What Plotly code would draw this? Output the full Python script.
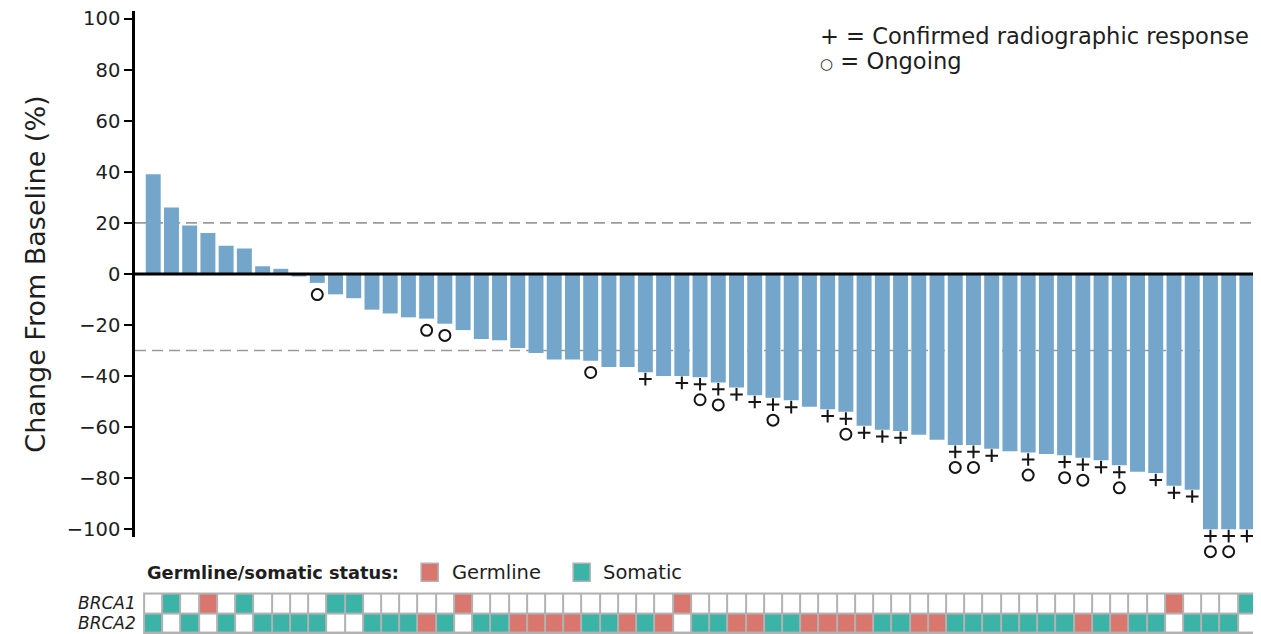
import plotly.graph_objects as go

# ---------------- data ----------------
patients = list(range(1, 62))
change_pct = [39, 26, 19, 16, 11, 10, 3, 2, -1, -3.5,
              -8, -9.5, -14, -15.5, -17, -17.5, -19.5, -22, -25.5, -26,
              -29, -31, -33.5, -33.5, -34, -36.5, -36.5, -38.5, -40, -40,
              -40.5, -42.5, -44.5, -47.5, -48.5, -49.5, -52, -53, -54, -59.5,
              -61, -61.5, -63, -65, -67, -67, -68.5, -69.5, -70, -70.5,
              -71, -72, -73, -75, -77.5, -78, -83, -84.5, -100, -100, -100]
confirmed_response = [28, 30, 31, 32, 33, 34, 35, 36, 38, 39, 40, 41, 42, 45, 46,
                      47, 49, 51, 52, 53, 54, 56, 57, 58, 59, 60, 61]
ongoing = [10, 16, 17, 25, 31, 32, 35, 39, 45, 46, 49, 51, 52, 54, 59, 60]
brca1_status = ["", "S", "", "G", "", "S", "", "", "", "",
                "S", "S", "", "", "", "", "", "G", "", "",
                "", "", "", "", "", "", "", "", "", "G",
                "", "", "", "", "", "", "", "", "", "",
                "", "", "", "", "", "", "", "", "", "",
                "", "", "", "", "", "", "G", "", "", "", "S"]
brca2_status = ["S", "", "S", "", "S", "", "S", "S", "S", "S",
                "", "", "S", "S", "S", "G", "S", "", "S", "S",
                "G", "G", "G", "G", "S", "S", "G", "S", "G", "",
                "S", "S", "G", "G", "S", "S", "G", "G", "G", "G",
                "S", "S", "G", "G", "S", "S", "S", "S", "S", "S",
                "S", "G", "S", "G", "S", "S", "", "S", "S", "S", ""]
gene_rows = ["BRCA1", "BRCA2"]
y_ticks = list(range(-100, 101, 20))
ref_lines = [20, -30]

# ---------------- style ----------------
FONT = "DejaVu Sans"
TXT = "#1e1e1e"
BAR = "#74a5cb"
GERM = "#d9766d"
SOMA = "#3cb3a7"
CELL_BORDER = "#b2b2b2"
MARK = "#151515"

# page has an 8px body margin: the figure sits at (8, 8)
OFF = 8
WIN_W, WIN_H = 1261, 634
W, H = WIN_W - OFF, WIN_H - OFF
# plot area in window pixels
PL, PR, PT, PB = 135.3, 1256.4, 11.35, 632.7
ML, MR, MT, MB = PL - OFF, WIN_W - PR, PT - OFF, WIN_H - PB
PW, PH = PR - PL, PB - PT
Y_MIN, Y_MAX = -103, 103
MAIN_BOTTOM_PX = 536.65
UNIT = (MAIN_BOTTOM_PX - PT) / (Y_MAX - Y_MIN)   # px per % unit
MARK_BOTTOM_PX = 560


def px(x):
    return (x - PL) / PW


def py(y):
    return (PB - y) / PH


n = len(patients)
main_bottom = py(MAIN_BOTTOM_PX)
grid_top = py(593.3)

fig = go.Figure()

fig.add_trace(go.Bar(x=patients, y=change_pct, marker=dict(color=BAR, line_width=0),
                     width=0.82, showlegend=False, hoverinfo="x+y"))

plus_x = confirmed_response
plus_y = [change_pct[p - 1] - 2.7 for p in confirmed_response]
fig.add_trace(go.Scatter(x=plus_x, y=plus_y, mode="markers", cliponaxis=False, yaxis="y3",
                         marker=dict(symbol="cross-thin-open", size=9, color=MARK,
                                     line=dict(color=MARK, width=2)),
                         showlegend=False))

circ_x = ongoing
circ_y = [change_pct[p - 1] - (8.8 if p in confirmed_response else 4.6) for p in ongoing]
fig.add_trace(go.Scatter(x=circ_x, y=circ_y, mode="markers", cliponaxis=False, yaxis="y3",
                         marker=dict(symbol="circle-open", size=11, color=MARK,
                                     line=dict(color=MARK, width=2)),
                         showlegend=False))

code = {"": 0, "G": 1, "S": 2}
z = [[code[s] for s in brca1_status], [code[s] for s in brca2_status]]
fig.add_trace(go.Heatmap(x=patients, y=gene_rows, z=z, xaxis="x", yaxis="y2",
                         zmin=0, zmax=2, showscale=False, xgap=2, ygap=2,
                         colorscale=[[0, "white"], [0.33, "white"], [0.34, GERM],
                                     [0.66, GERM], [0.67, SOMA], [1, SOMA]],
                         hoverinfo="skip"))

shapes = []
for v in ref_lines:
    shapes.append(dict(type="line", xref="x", yref="y", x0=0, x1=n + 0.5, y0=v, y1=v,
                       line=dict(color="#9a9a9a", width=1.6, dash="11px,6px"), layer="below"))
shapes.append(dict(type="line", xref="x", yref="y", x0=0, x1=n + 0.5, y0=0, y1=0,
                   line=dict(color="black", width=3), layer="above"))
shapes.append(dict(type="rect", xref="x", yref="y2 domain", x0=0.5, x1=n + 0.5, y0=0, y1=1,
                   fillcolor=CELL_BORDER, line=dict(color=CELL_BORDER, width=2), layer="below"))
# legend squares
for x0, col in [(421.5, GERM), (573.5, SOMA)]:
    shapes.append(dict(type="rect", xref="paper", yref="paper",
                       x0=px(x0), x1=px(x0 + 17), y0=py(581), y1=py(563),
                       fillcolor=col, line=dict(color=CELL_BORDER, width=1.5)))

annotations = [
    dict(text="+ = Confirmed radiographic response", x=px(818), y=py(36), xref="paper", yref="paper",
         xanchor="left", yanchor="middle", showarrow=False, font=dict(family=FONT, size=22.6, color=TXT)),
    dict(text="<span style='font-size:15px'>○</span> = Ongoing", x=px(818), y=py(61), xref="paper",
         yref="paper", xanchor="left", yanchor="middle", showarrow=False,
         font=dict(family=FONT, size=22.6, color=TXT)),
    dict(text="Change From Baseline (%)", x=px(36), y=py(274), xref="paper", yref="paper",
         xanchor="center", yanchor="middle", textangle=-90, showarrow=False,
         font=dict(family=FONT, size=27, color=TXT)),
    dict(text="<b>Germline/somatic status:</b>", x=px(145), y=py(572), xref="paper", yref="paper",
         xanchor="left", yanchor="middle", showarrow=False, font=dict(family=FONT, size=17.8, color=TXT)),
    dict(text="Germline", x=px(450), y=py(572), xref="paper", yref="paper",
         xanchor="left", yanchor="middle", showarrow=False, font=dict(family=FONT, size=19.5, color=TXT)),
    dict(text="Somatic", x=px(601), y=py(572), xref="paper", yref="paper",
         xanchor="left", yanchor="middle", showarrow=False, font=dict(family=FONT, size=19.5, color=TXT)),
]
for g in gene_rows:
    annotations.append(dict(text=g, x=px(138), y=g, xref="paper", yref="y2",
                            xanchor="right", yanchor="middle", showarrow=False,
                            font=dict(family=FONT, size=17, color=TXT, style="italic")))

fig.update_layout(
    width=W, height=H, margin=dict(l=ML, r=MR, t=MT, b=MB, autoexpand=False),
    paper_bgcolor="white", plot_bgcolor="rgba(0,0,0,0)", showlegend=False,
    bargap=0.18,
    xaxis=dict(range=[0, n + 0.5], visible=False, fixedrange=True),
    yaxis=dict(domain=[main_bottom, 1], range=[Y_MIN, Y_MAX], tickvals=y_ticks,
               ticks="outside", ticklen=8, tickwidth=2, tickcolor="black",
               showline=True, linewidth=2.5, linecolor="black",
               showgrid=False, zeroline=False, automargin=False, ticklabeloverflow="allow",
               tickfont=dict(family=FONT, size=19.5, color=TXT)),
    yaxis3=dict(domain=[py(MARK_BOTTOM_PX), 1], anchor="x", visible=False,
                range=[Y_MIN - (MARK_BOTTOM_PX - MAIN_BOTTOM_PX) / UNIT, Y_MAX]),
    yaxis2=dict(domain=[0, grid_top], anchor="x", range=[1.5, -0.5], type="category",
                showgrid=False, zeroline=False, showline=False, ticks="", automargin=False,
                showticklabels=False),
    shapes=shapes, annotations=annotations,
)

fig.write_html("out.html")
